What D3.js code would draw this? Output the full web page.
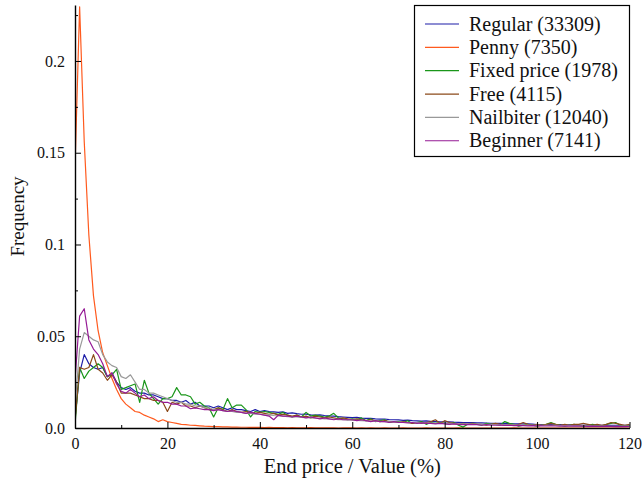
<!DOCTYPE html>
<html><head><meta charset="utf-8">
<script src="https://cdn.jsdelivr.net/npm/d3@7"></script>
<style>html,body{margin:0;padding:0;background:#fff}svg{display:block}
svg text{font-family:"Liberation Serif","DejaVu Serif",serif !important;}</style>
</head><body><svg id="c" width="642" height="482"></svg>
<script>
const seriesNames = ["Regular (33309)","Penny (7350)","Fixed price (1978)","Free (4115)","Nailbiter (12040)","Beginner (7141)"];
const seriesColors = ["#1c1ca8","#ff5a1e","#1a961a","#8b4a1a","#999999","#951a95"];
const xTicks = [0,20,40,60,80,100,120];
const yTicks = [0,0.05,0.1,0.15,0.2];
const yTickLabels = ["0.0","0.05","0.1","0.15","0.2"];

const regular = [0.005,0.030,0.040,0.035,0.033,0.032,0.033,0.028,0.030,0.025,
0.022,0.021,0.022,0.020,0.019,0.019,0.018,0.018,0.017,0.016,
0.016,0.015,0.015,0.014,0.015,0.013,0.014,0.012,0.012,0.012,
0.011,0.012,0.011,0.010,0.011,0.010,0.010,0.0095,0.009,0.010,
0.009,0.0095,0.009,0.0088,0.0085,0.0088,0.008,0.0082,0.0078,0.0075,
0.0076,0.0072,0.007,0.0072,0.0068,0.0066,0.0065,0.0062,0.006,0.0058,
0.0056,0.0058,0.0054,0.0052,0.0053,0.005,0.0048,0.0049,0.0046,0.0045,
0.0044,0.0042,0.0043,0.004,0.0039,0.0038,0.0039,0.0036,0.0035,0.0034,
0.0033,0.0034,0.0032,0.0031,0.003,0.003,0.0029,0.0028,0.0028,0.0027,
0.0026,0.0026,0.0025,0.0025,0.0024,0.0023,0.0023,0.0022,0.0022,0.0021,
0.0019,0.0019,0.0018,0.0018,0.0017,0.0018,0.0016,0.0017,0.0016,0.0016,
0.0015,0.0016,0.0015,0.0015,0.0014,0.0015,0.0014,0.0014,0.0013,0.0014,0.0013];

const penny = [0.142,0.2295,0.156,0.105,0.072,0.053,0.041,0.034,0.027,0.021,
0.016,0.013,0.011,0.009,0.0085,0.007,0.006,0.005,0.0035,0.0045,
0.0035,0.003,0.0025,0.002,0.0018,0.0015,0.0014,0.0012,0.001,0.0009,
0.0008,0.0007,0.0006,0.0006,0.0005,0.0005,0.0004,0.0004,0.0003,0.0003,
0.0003,0.0002,0.0003,0.0002,0.0002,0.0002,0.0001,0.0002,0.0001,0.0001,
0.0001,0.0002,0.0001,0.0001,0.0001,0.0001,0.0001,0.0,0.0001,0.0001,
0.0001,0.0,0.0001,0.0,0.0001,0.0,0.0,0.0001,0.0,0.0,
0.0,0.0001,0.0,0.0,0.0,0.0,0.0001,0.0,0.0,0.0,
0.0,0.0,0.0,0.0001,0.0,0.0,0.0,0.0,0.0,0.0,
0.0,0.0,0.0,0.0,0.0,0.0001,0.0,0.0,0.0,0.0,
0.0,0.0,0.0,0.0,0.0,0.0,0.0,0.0,0.0,0.0,
0.0,0.0,0.0,0.0,0.0,0.0,0.0,0.0,0.0,0.0,0.0];

const fixedPrice = [0.002,0.033,0.027,0.031,0.033,0.035,0.033,0.028,0.029,0.032,
0.021,0.022,0.023,0.024,0.014,0.026,0.019,0.016,0.013,0.016,
0.016,0.017,0.022,0.018,0.018,0.017,0.013,0.014,0.012,0.011,
0.006,0.011,0.010,0.016,0.011,0.0125,0.0125,0.010,0.006,0.009,
0.0085,0.009,0.0085,0.008,0.0075,0.0085,0.007,0.006,0.007,0.006,
0.0085,0.0065,0.007,0.0065,0.006,0.0065,0.008,0.0055,0.005,0.0045,
0.005,0.0045,0.0055,0.004,0.005,0.0035,0.004,0.0045,0.003,0.0035,
0.0035,0.003,0.004,0.0025,0.003,0.0035,0.002,0.003,0.0025,0.003,
0.0025,0.002,0.003,0.0015,0.0005,0.002,0.0025,0.002,0.0015,0.0025,
0.002,0.002,0.0015,0.0035,0.0025,0.002,0.001,0.0015,0.002,0.0015,
0.001,0.0015,0.002,0.003,0.002,0.0015,0.001,0.0015,0.002,0.0015,
0.001,0.0015,0.002,0.0015,0.001,0.002,0.0025,0.003,0.0015,0.001,0.0015];

const free = [0.004,0.033,0.032,0.033,0.040,0.032,0.030,0.026,0.029,0.025,
0.019,0.019,0.019,0.018,0.017,0.016,0.016,0.015,0.015,0.014,
0.009,0.014,0.013,0.014,0.012,0.012,0.011,0.012,0.011,0.010,
0.010,0.011,0.010,0.009,0.010,0.009,0.0085,0.009,0.0085,0.008,
0.0085,0.008,0.0075,0.008,0.007,0.0075,0.007,0.0065,0.007,0.006,
0.0065,0.0055,0.0065,0.006,0.0055,0.006,0.0055,0.005,0.0055,0.005,
0.0045,0.005,0.0045,0.004,0.0045,0.004,0.0035,0.004,0.0035,0.0035,
0.003,0.0035,0.003,0.0025,0.003,0.0025,0.003,0.0035,0.0045,0.0025,
0.004,0.003,0.0025,0.002,0.0025,0.002,0.0025,0.002,0.002,0.0015,
0.002,0.0025,0.002,0.0015,0.002,0.0015,0.002,0.003,0.002,0.0015,
0.002,0.0015,0.002,0.0025,0.002,0.0015,0.002,0.0015,0.002,0.002,
0.0025,0.002,0.0015,0.002,0.0015,0.002,0.003,0.0025,0.002,0.0015,0.002];

const nailbiter = [0.012,0.043,0.052,0.050,0.048,0.047,0.040,0.036,0.034,0.033,
0.028,0.027,0.029,0.025,0.021,0.021,0.019,0.019,0.018,0.017,
0.016,0.015,0.014,0.014,0.013,0.013,0.012,0.012,0.011,0.011,
0.010,0.010,0.0095,0.009,0.009,0.0085,0.0085,0.008,0.008,0.0075,
0.0075,0.007,0.0072,0.0068,0.0066,0.0065,0.0062,0.006,0.006,0.0058,
0.0056,0.0055,0.0053,0.0052,0.005,0.0049,0.0048,0.0046,0.0045,0.0044,
0.0043,0.0042,0.004,0.0039,0.0038,0.0037,0.0036,0.0035,0.0034,0.0033,
0.0032,0.0031,0.003,0.003,0.0029,0.0028,0.0027,0.0027,0.0026,0.0025,
0.0025,0.0024,0.0023,0.0023,0.0022,0.0022,0.0021,0.0021,0.002,0.002,
0.0019,0.0019,0.0018,0.0018,0.0017,0.0017,0.0016,0.0016,0.0016,0.0015,
0.0015,0.0015,0.0014,0.0014,0.0014,0.0013,0.0013,0.0013,0.0012,0.0012,
0.0012,0.0012,0.0011,0.0011,0.0011,0.0011,0.001,0.001,0.001,0.001,0.001];

const beginner = [0.026,0.061,0.065,0.048,0.043,0.040,0.035,0.028,0.030,0.024,
0.020,0.019,0.021,0.019,0.017,0.018,0.016,0.017,0.015,0.014,
0.014,0.013,0.013,0.012,0.012,0.0105,0.011,0.0105,0.010,0.010,
0.0095,0.010,0.0095,0.009,0.0095,0.009,0.0085,0.008,0.0085,0.008,
0.0075,0.007,0.0065,0.0045,0.007,0.0065,0.0065,0.006,0.0065,0.006,
0.0055,0.006,0.0055,0.005,0.0055,0.005,0.0045,0.005,0.0045,0.0045,
0.0045,0.004,0.0045,0.004,0.0035,0.004,0.0035,0.0035,0.003,0.0035,
0.003,0.003,0.0028,0.003,0.0025,0.0028,0.0025,0.0025,0.0022,0.0025,
0.0022,0.002,0.0022,0.002,0.0018,0.002,0.0018,0.0018,0.0015,0.0018,
0.0016,0.0015,0.0016,0.0014,0.0015,0.0013,0.0014,0.0013,0.0012,0.0013,
0.0012,0.0012,0.0011,0.0012,0.0011,0.001,0.0011,0.001,0.001,0.0011,
0.001,0.0009,0.001,0.0009,0.0009,0.001,0.0009,0.0008,0.0009,0.0008,0.0009];

const allSeries = [regular, penny, fixedPrice, free, nailbiter, beginner];

const svg = d3.select("#c");
const L = 75, R = 629.5, T = 5, B = 428;
const x = d3.scaleLinear().domain([0,120]).range([L,R]);
const y = d3.scaleLinear().domain([0,0.2305]).range([B,T]);

svg.append("defs").append("clipPath").attr("id","clip")
  .append("rect").attr("x",L).attr("y",T).attr("width",R-L+1).attr("height",B-T);

const line = d3.line().x((d,i)=>x(i)).y(d=>y(d));
const g = svg.append("g").attr("clip-path","url(#clip)");
allSeries.forEach((s,k)=>{
  g.append("path").datum(s).attr("d",line).attr("fill","none")
   .attr("stroke",seriesColors[k]).attr("stroke-width",1.2).attr("stroke-linejoin","round");
});

const xAxis = d3.axisBottom(x).tickValues(xTicks).tickSizeInner(-6).tickSizeOuter(0).tickPadding(10).tickFormat(d3.format("d"));
const gx = svg.append("g").attr("transform",`translate(0,${B})`).call(xAxis);
const xMinor = d3.axisBottom(x).tickValues([10,30,50,70,90,110]).tickSizeInner(-3).tickSizeOuter(0).tickFormat("");
const gxm = svg.append("g").attr("transform",`translate(0,${B})`).call(xMinor);
gxm.select(".domain").remove();

const yAxis = d3.axisLeft(y).tickValues(yTicks).tickSizeInner(-6).tickSizeOuter(0).tickPadding(10).tickFormat((d,i)=>yTickLabels[i]);
const gy = svg.append("g").attr("transform",`translate(${L},0)`).call(yAxis);
const yMinor = d3.axisLeft(y).tickValues([0.025,0.075,0.125,0.175,0.225]).tickSizeInner(-3).tickSizeOuter(0).tickFormat("");
const gym = svg.append("g").attr("transform",`translate(${L},0)`).call(yMinor);
gym.select(".domain").remove();

[gx,gy,gxm,gym].forEach(a=>{
  a.selectAll(".domain").attr("stroke","#000").attr("stroke-width",1.4);
  a.selectAll(".tick line").attr("stroke","#000").attr("stroke-width",1);
  a.selectAll("text").attr("font-size",16).attr("fill","#111");
});
gx.selectAll(".tick text").attr("dy","0.71em");

svg.append("text").attr("x",(L+R)/2).attr("y",473).attr("text-anchor","middle")
  .attr("font-size",20.5).attr("fill","#111").text("End price / Value (%)");
svg.append("text").attr("transform",`translate(24,${(T+B)/2}) rotate(-90)`).attr("text-anchor","middle")
  .attr("font-size",19).attr("fill","#111").text("Frequency");

const lg = svg.append("g");
lg.append("rect").attr("x",414.5).attr("y",5.5).attr("width",215).attr("height",151)
  .attr("fill","#fff").attr("stroke","#000").attr("stroke-width",1.2);
seriesNames.forEach((n,k)=>{
  const yy = 24 + k*23.35;
  lg.append("line").attr("x1",425).attr("x2",459).attr("y1",yy).attr("y2",yy)
    .attr("stroke",seriesColors[k]).attr("stroke-width",1.2);
  lg.append("text").attr("x",469).attr("y",yy).attr("dy","0.33em")
    .attr("font-size",20).attr("fill","#111").text(n);
});
</script></body></html>
